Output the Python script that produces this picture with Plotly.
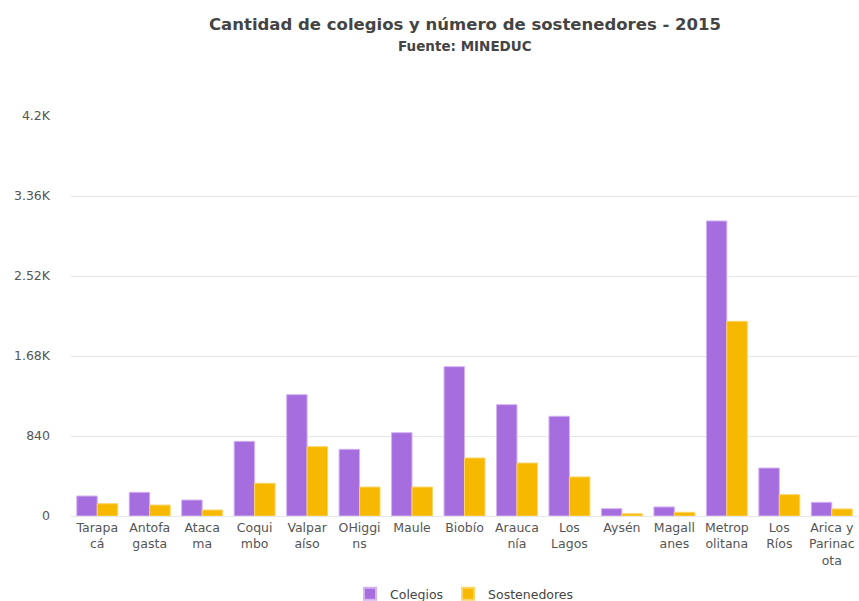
import plotly.graph_objects as go

regiones = ["Tarapa<br>cá", "Antofa<br>gasta", "Ataca<br>ma", "Coqui<br>mbo", "Valpar<br>aíso",
            "OHiggi<br>ns", "Maule", "Biobío", "Arauca<br>nía", "Los<br>Lagos", "Aysén",
            "Magall<br>anes", "Metrop<br>olitana", "Los<br>Ríos", "Arica y<br>Parinac<br>ota"]
colegios = [210, 249, 168, 784, 1274, 700, 875, 1568, 1169, 1047, 77, 95, 3098, 504, 144]
sostenedores = [129, 115, 63, 343, 728, 304, 304, 609, 556, 410, 24, 39, 2044, 224, 74]
y_ticks = [0, 840, 1680, 2520, 3360, 4200]
y_tick_labels = ["0", "840", "1.68K", "2.52K", "3.36K", "4.2K"]

font_family = "DejaVu Sans, Verdana, sans-serif"
plot_top, plot_bottom = 116, 516

def paper_y(px):
    return (plot_bottom - px) / (plot_bottom - plot_top)

fig = go.Figure()
fig.add_trace(go.Bar(x=regiones, y=colegios, name="Colegios",
                     marker=dict(color="#a66ddf", line=dict(color="#d3b3f2", width=1))))
fig.add_trace(go.Bar(x=regiones, y=sostenedores, name="Sostenedores",
                     marker=dict(color="#f6b900", line=dict(color="#fad466", width=1))))

fig.update_layout(
    width=859, height=601,
    paper_bgcolor="white", plot_bgcolor="white",
    margin=dict(l=71, r=1, t=plot_top, b=601 - plot_bottom, autoexpand=False),
    barmode="group", bargap=0.22, bargroupgap=0,
    font=dict(family=font_family, color="#555555", size=12),
    showlegend=True,
    legend=dict(orientation="h", xanchor="center", x=0.5, yref="paper", yanchor="middle", y=paper_y(594),
                font=dict(size=12.5, color="#444444"), itemsizing="constant", itemwidth=30),
    annotations=[
        dict(text="<b>Cantidad de colegios y número de sostenedores - 2015</b>", xref="paper", yref="paper",
             x=0.5, y=paper_y(24), xanchor="center", yanchor="middle", showarrow=False,
             font=dict(size=16.5, color="#444444", family=font_family)),
        dict(text="<b>Fuente: MINEDUC</b>", xref="paper", yref="paper",
             x=0.5, y=paper_y(46), xanchor="center", yanchor="middle", showarrow=False,
             font=dict(size=13.5, color="#444444", family=font_family)),
    ],
)
fig.update_xaxes(showgrid=False, showline=True, linecolor="#e6e6e6", tickfont=dict(size=12.5, color="#555555"),
                 ticks="", tickangle=0, automargin=False)
fig.update_yaxes(range=[0, 4200], tickvals=y_ticks, ticktext=y_tick_labels, gridcolor="#e6e6e6",
                 zeroline=False, ticklabelstandoff=20, tickfont=dict(size=12.5, color="#555555"),
                 automargin=False)

fig.write_html("out.html", config={"displayModeBar": False},
               post_script="document.body.style.margin='0';document.body.style.overflow='hidden';")
